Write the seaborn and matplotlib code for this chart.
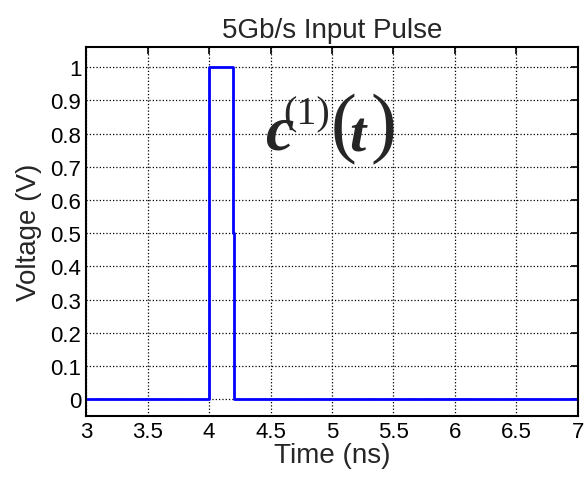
import matplotlib
matplotlib.use("Agg")
import matplotlib.pyplot as plt
import seaborn as sns
import pandas as pd

# pulse samples (time in ns, voltage in V)
time_ns = [3.0, 4.0, 4.0, 4.195, 4.195, 4.2, 4.2, 7.0]
voltage = [0.0, 0.0, 1.0, 1.0, 0.5, 0.5, 0.0, 0.0]
x_ticks = [3, 3.5, 4, 4.5, 5, 5.5, 6, 6.5, 7]
y_ticks = [0, 0.1, 0.2, 0.3, 0.4, 0.5, 0.6, 0.7, 0.8, 0.9, 1]

sns.set_style("white")
plt.rcParams['font.family'] = ['Liberation Sans', 'DejaVu Sans']

df = pd.DataFrame({'time': time_ns, 'voltage': voltage})

fig = plt.figure(figsize=(5.86, 4.81), dpi=100)
ax = fig.add_axes([0.147, 0.133, 0.839, 0.767])
sns.lineplot(data=df, x='time', y='voltage', ax=ax, color='#0000ff', linewidth=2, sort=False, estimator=None)

ax.set_xlim(3, 7)
ax.set_ylim(-0.05, 1.06)
ax.set_xticks(x_ticks)
ax.set_xticklabels([f"{t:g}" for t in x_ticks])
ax.set_yticks(y_ticks)
ax.set_yticklabels([f"{t:g}" for t in y_ticks])
ax.tick_params(direction='in', length=5, width=1.2, labelsize=16, colors='black', top=True, right=True)
ax.grid(True, linestyle=':', color='black', linewidth=0.9)
for s in ax.spines.values():
    s.set_color('black')
    s.set_linewidth(1.5)

ax.set_xlabel('Time (ns)', fontsize=20, labelpad=0)
ax.set_ylabel('Voltage (V)', fontsize=20, labelpad=6)
ax.set_title('5Gb/s Input Pulse', fontsize=20, pad=7)

# c^(1)(t) label, Times-like serif
serif = 'Liberation Serif'
ax.text(4.455, 0.755, 'c', family=serif, style='italic', weight='bold', fontsize=46,
        ha='left', va='baseline')
ax.text(4.6, 0.83, '(1)', family=serif, fontsize=29, ha='left', va='baseline')
ax.text(4.99, 0.76, '(', family=serif, fontsize=56, ha='left', va='baseline')
ax.text(5.14, 0.75, 't', family=serif, style='italic', weight='bold', fontsize=42,
        ha='left', va='baseline')
ax.text(5.31, 0.76, ')', family=serif, fontsize=56, ha='left', va='baseline')

fig.savefig('out.png', dpi=100)
